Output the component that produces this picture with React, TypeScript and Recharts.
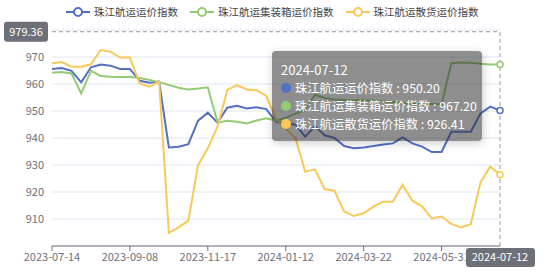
import React from 'react';
import { LineChart, Line, XAxis, YAxis, CartesianGrid, Tooltip, ReferenceLine } from 'recharts';

// weekly release dates (holiday weeks missing)
const dates = [
  '2023-07-14', '2023-07-21', '2023-07-28', '2023-08-04', '2023-08-11', '2023-08-18', '2023-08-25', '2023-09-01',
  '2023-09-08', '2023-09-15', '2023-09-22', '2023-10-13', '2023-10-20', '2023-10-27', '2023-11-03', '2023-11-10',
  '2023-11-17', '2023-11-24', '2023-12-01', '2023-12-08', '2023-12-15', '2023-12-22', '2023-12-29', '2024-01-05',
  '2024-01-12', '2024-01-19', '2024-01-26', '2024-02-02', '2024-02-23', '2024-03-01', '2024-03-08', '2024-03-15',
  '2024-03-22', '2024-03-29', '2024-04-12', '2024-04-19', '2024-04-26', '2024-05-10', '2024-05-17', '2024-05-24',
  '2024-05-31', '2024-06-07', '2024-06-14', '2024-06-21', '2024-06-28', '2024-07-05', '2024-07-12',
];

const freightIndex = [
  965.6, 965.9, 964.9, 960.6, 966.2, 967.2, 966.8, 965.6, 965.6, 961.2, 960.5, 960.9,
  936.5, 936.8, 937.7, 946.4, 949.4, 945.7, 951.2, 951.9, 950.9, 951.4, 950.7,
  946.0, 945.4, 945.0, 940.5, 944.4, 941.0, 940.0, 937.0, 936.2, 936.5, 937.0, 937.6, 938.0,
  940.2, 938.0, 936.8, 934.8, 934.8, 942.3, 942.3, 942.3, 949.1, 951.6, 950.2,
];

const containerIndex = [
  964.2, 964.4, 963.9, 956.5, 964.9, 963.0, 962.7, 962.6, 962.6, 962.2, 961.5, 960.7,
  959.6, 958.6, 958.0, 958.3, 958.8, 945.7, 946.4, 946.0, 945.4, 946.5, 947.3,
  946.4, 947.5, 949.0, 950.4, 956.0, 954.8, 954.3, 954.1, 954.0, 954.0, 953.8, 953.5, 953.3,
  953.0, 952.8, 952.7, 952.6, 952.5, 967.7, 968.0, 967.9, 967.5, 967.2, 967.2,
];

const bulkIndex = [
  967.7, 968.1, 966.4, 966.4, 967.3, 972.6, 972.0, 969.8, 969.8, 960.2, 959.0, 960.9,
  904.9, 906.9, 909.4, 930.0, 936.2, 944.2, 957.8, 959.6, 958.0, 957.7, 955.6,
  947.0, 943.5, 940.0, 927.5, 928.4, 921.0, 920.5, 912.8, 911.1, 912.1, 914.6, 916.4, 916.4,
  922.7, 916.8, 914.7, 910.2, 910.9, 908.2, 906.9, 908.1, 923.6, 929.4, 926.41,
];

const yTicks = [910, 920, 930, 940, 950, 960, 970, 980];
const pointerValue = 979.36;

const series = [
  { key: 'freight', name: '珠江航运运价指数', color: '#5470c6', values: freightIndex },
  { key: 'container', name: '珠江航运集装箱运价指数', color: '#91cc75', values: containerIndex },
  { key: 'bulk', name: '珠江航运散货运价指数', color: '#fac858', values: bulkIndex },
];

const rows = dates.map((date, i) => {
  const row: Record<string, any> = { date };
  series.forEach((s) => { row[s.key] = s.values[i]; });
  return row;
});

const lastIdx = dates.length - 1;
const activeDate = dates[lastIdx];
const FONT = '"Noto Sans CJK SC", "Noto Sans", sans-serif';
const AXIS = '#6e7079';

const TipBox = ({ active, payload, label }: any) => {
  if (!active || !payload || !payload.length) return null;
  return (
    <div style={{
      background: 'rgba(50,50,50,0.55)', borderRadius: 4, padding: '10px 9px 8px 9px',
      color: '#fff', fontSize: 12.3, lineHeight: '18px', width: 210, boxSizing: 'border-box',
      boxShadow: '1px 2px 10px rgba(0,0,0,0.2)', fontFamily: FONT, whiteSpace: 'nowrap',
    }}>
      <div style={{ fontSize: 13 }}>{label}</div>
      {payload.map((p: any) => (
        <div key={p.dataKey} style={{ display: 'flex', alignItems: 'center' }}>
          <span style={{ width: 10, height: 10, borderRadius: 5, background: p.color, marginRight: 4, flexShrink: 0, display: 'inline-block' }} />
          <span>{p.name} : {Number(p.value).toFixed(2)}</span>
        </div>
      ))}
    </div>
  );
};

const YTick = ({ x, y, payload }: any) => {
  // the top label sits under the pointer label
  if (payload.value >= 980) return <g />;
  return (
    <text x={x} y={y} dy="0.35em" textAnchor="end" fill={AXIS} fontSize={11} fontFamily={FONT}>{payload.value}</text>
  );
};

const YPointerLabel = ({ viewBox }: any) => {
  const y = viewBox.y;
  return (
    <g>
      <rect x={4} y={y - 10} width={44} height={20} rx={3} fill={AXIS} />
      <text x={26} y={y} dy="0.35em" textAnchor="middle" fill="#fff" fontSize={11} fontFamily={FONT}>{pointerValue}</text>
    </g>
  );
};

const XPointerLabel = ({ viewBox }: any) => {
  const x = viewBox.x;
  const y = viewBox.y + viewBox.height;
  return (
    <g>
      <rect x={x - 34} y={y + 2} width={69} height={19} rx={3} fill={AXIS} />
      <text x={x} y={y + 11.5} dy="0.35em" textAnchor="middle" fill="#fff" fontSize={11} fontFamily={FONT}>{activeDate}</text>
    </g>
  );
};

const LegendIcon = ({ color }: { color: string }) => (
  <svg width={24} height={14} style={{ display: 'block' }}>
    <line x1={0} y1={7} x2={24} y2={7} stroke={color} strokeWidth={2} />
    <circle cx={12} cy={7} r={4} fill="#fff" stroke={color} strokeWidth={2} />
  </svg>
);

export default function App() {
  return (
    <div style={{ position: 'absolute', left: 0, top: 0, width: 554, height: 274, background: '#fff', fontFamily: FONT }}>
      <div style={{ position: 'absolute', left: 66, top: 4, display: 'flex', alignItems: 'center', gap: 12, fontSize: 10.5, color: '#444' }}>
        {series.map((s) => (
          <div key={s.key} style={{ display: 'flex', alignItems: 'center', gap: 4 }}>
            <LegendIcon color={s.color} />
            <span>{s.name}</span>
          </div>
        ))}
      </div>
      <LineChart width={554} height={274} data={rows} margin={{ top: 30, right: 54, bottom: 8, left: 8 }}>
        <CartesianGrid vertical={false} stroke="#E0E6F1" />
        <XAxis
          dataKey="date"
          interval={7}
          height={20}
          tickSize={5}
          stroke={AXIS}
          tick={{ fill: AXIS, fontSize: 11, fontFamily: FONT }}
        />
        <YAxis
          domain={[900, 980]}
          ticks={yTicks}
          width={44}
          axisLine={false}
          tickLine={false}
          tick={<YTick />}
        />
        {series.map((s) => (
          <Line
            key={s.key}
            type="linear"
            dataKey={s.key}
            name={s.name}
            stroke={s.color}
            strokeWidth={2}
            activeDot={false}
            dot={(p: any) =>
              p.index === lastIdx ? (
                <circle key={p.index} cx={p.cx} cy={p.cy} r={3} fill="#fff" stroke={s.color} strokeWidth={1.5} />
              ) : (
                <g key={p.index} />
              )
            }
            isAnimationActive={false}
          />
        ))}
        <ReferenceLine y={pointerValue} stroke="#999" strokeDasharray="4 3" label={<YPointerLabel />} />
        <ReferenceLine x={activeDate} stroke="#999" strokeDasharray="4 3" label={<XPointerLabel />} />
        <Tooltip
          defaultIndex={lastIdx}
          active
          cursor={false}
          content={<TipBox />}
          position={{ x: 272, y: 51 }}
          isAnimationActive={false}
          wrapperStyle={{ outline: 'none' }}
        />
      </LineChart>
    </div>
  );
}
